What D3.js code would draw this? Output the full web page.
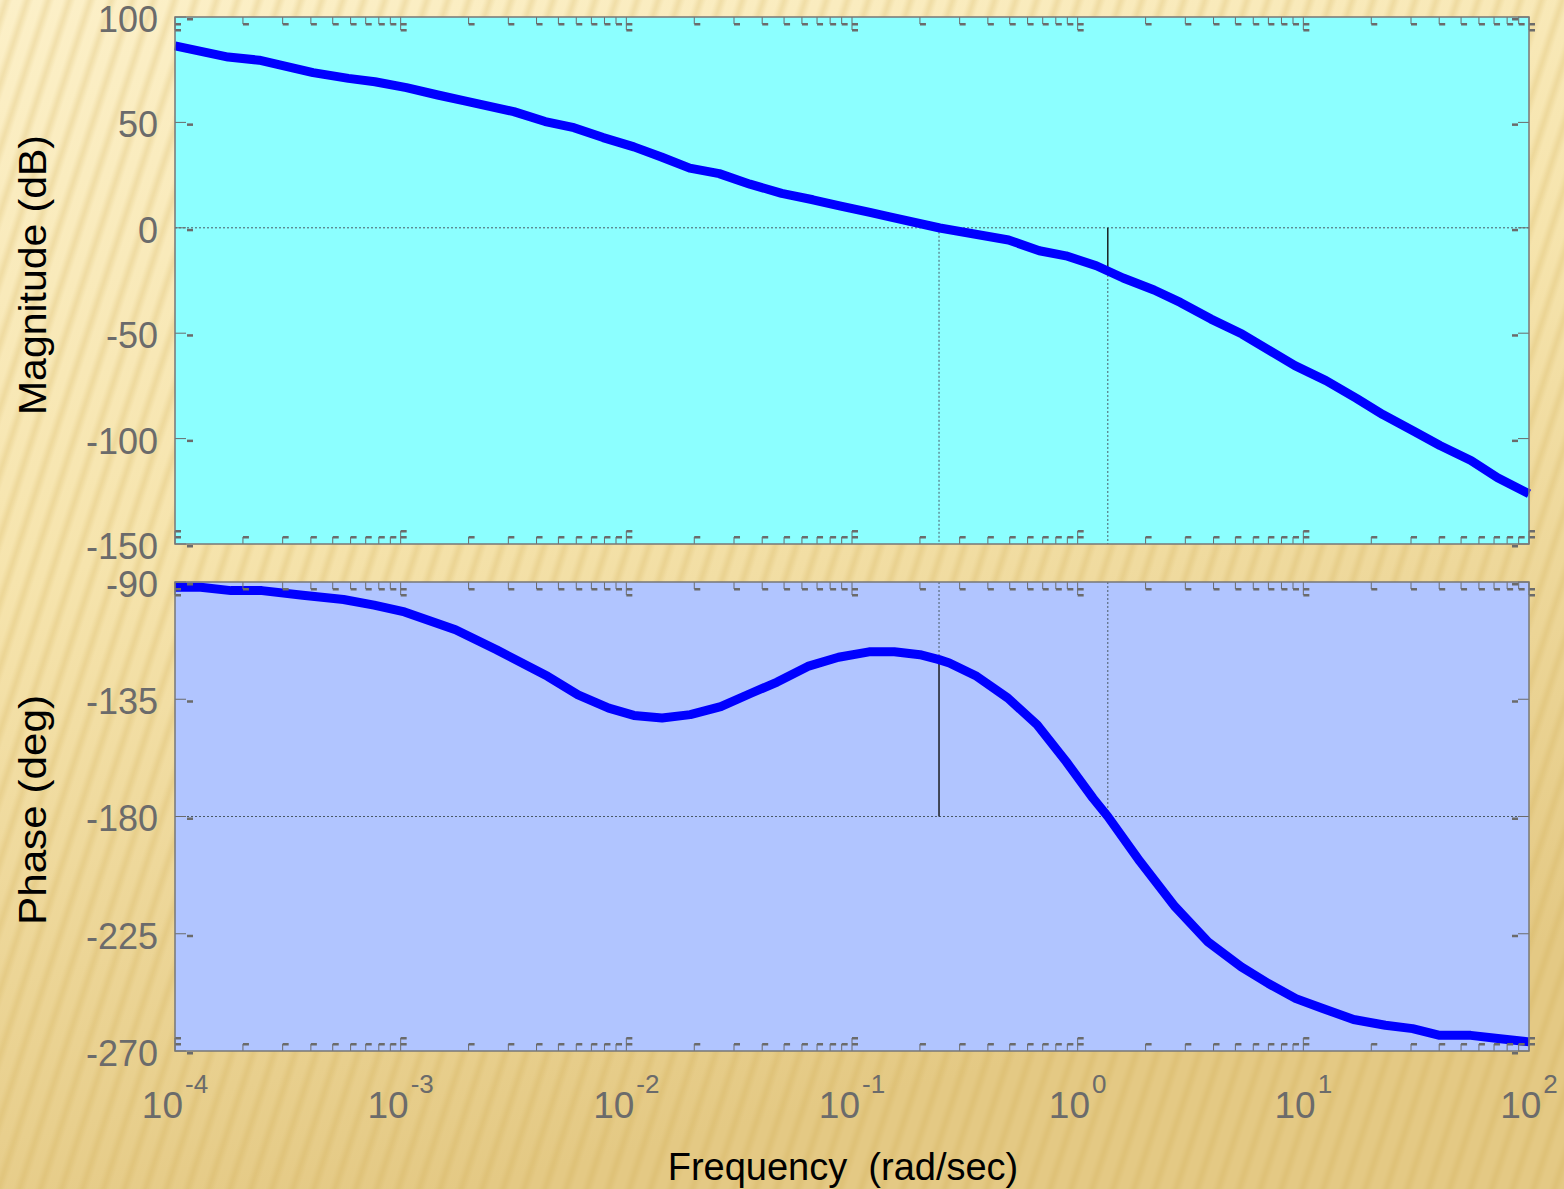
<!DOCTYPE html>
<html>
<head>
<meta charset="utf-8">
<script src="https://cdn.jsdelivr.net/npm/d3@7"></script>
<style>
  body { margin: 0; overflow: hidden; }
  svg { display: block; }
  text { font-family: "Liberation Sans", Arial, sans-serif; }
</style>
</head>
<body>
<div id="chart"></div>
<script>
'use strict'

// magnitude curve (rad/sec, dB)
const magFreq = [1.00e-4, 1.72e-4, 2.36e-4, 4.09e-4, 5.87e-4, 7.69e-4, 1.06e-3, 1.46e-3, 1.92e-3, 3.17e-3,
    4.37e-3, 5.86e-3, 7.89e-3, 1.08e-2, 1.43e-2, 1.91e-2, 2.58e-2, 3.53e-2, 4.88e-2, 6.71e-2,
    8.81e-2, 0.120, 0.147, 0.245, 0.494, 0.676, 0.887, 1.21, 1.59, 2.18,
    2.85, 3.90, 5.35, 9.18, 12.6, 17.2, 22.5, 30.9, 40.3, 55.3, 72.6, 100]
const magDb = [86.3, 81.0, 79.5, 73.6, 70.9, 69.3, 66.5, 63.0, 60.2, 55.1,
    50.4, 47.5, 42.8, 38.4, 33.6, 28.3, 25.7, 20.7, 16.3, 13.3,
    10.4, 7.3, 5.2, -0.1, -5.8, -10.9, -13.3, -18.0, -23.8, -29.5,
    -35.4, -43.3, -50.4, -65.4, -72.5, -80.9, -88.6, -96.5, -103.3, -110.4, -118.6, -126.2]

// phase curve (rad/sec, deg)
const phaseFreq = [1.00e-4, 1.30e-4, 1.77e-4, 2.43e-4, 3.68e-4, 5.58e-4, 7.62e-4, 1.04e-3, 1.75e-3, 2.66e-3,
    4.48e-3, 6.11e-3, 8.36e-3, 1.08e-2, 1.44e-2, 1.92e-2, 2.62e-2, 3.59e-2, 4.66e-2, 6.37e-2,
    8.71e-2, 0.119, 0.154, 0.200, 0.243, 0.270, 0.357, 0.490, 0.661, 0.889,
    1.17, 1.36, 1.89, 2.70, 3.78, 5.31, 7.00, 9.27, 12.2, 16.7,
    23.1, 30.5, 40.2, 55.2, 72.8, 100]
const phaseDeg = [-92.0, -92.0, -93.3, -93.3, -95.1, -96.7, -98.9, -101.5, -108.3, -116.0,
    -126.2, -133.3, -138.4, -141.2, -142.2, -140.9, -137.8, -132.6, -128.4, -122.4,
    -118.9, -116.8, -116.8, -117.9, -119.8, -121.1, -126.2, -134.5, -144.8, -158.9,
    -173.0, -180.0, -197.3, -214.6, -228.1, -237.7, -244.1, -249.9, -253.7, -257.9,
    -260.1, -261.4, -264.0, -264.0, -265.2, -266.5]

// tick labels
const magTicks = [100, 50, 0, -50, -100, -150]
const phaseTicks = [-90, -135, -180, -225, -270]
const decadeExp = [-4, -3, -2, -1, 0, 1, 2]

// margins: gain crossover and phase crossover frequencies
const gainCrossFreq = 0.243
const phaseCrossFreq = 1.36

////////////////////////////////////
//////////// svg setup /////////////
////////////////////////////////////
const svgWidth = 1564
const svgHeight = 1189
const left = 175, right = 1529
const magTop = 17, magBottom = 544
const phTop = 582, phBottom = 1051
const grey = '#6b6b6b'

const svg = d3.select('#chart')
    .append('svg')
    .attr('width', svgWidth)
    .attr('height', svgHeight)

const defs = svg.append('defs')

const bg = defs.append('linearGradient')
    .attr('id', 'bg')
    .attr('x1', '0%').attr('x2', '30%')
    .attr('y1', '0%').attr('y2', '100%')
bg.append('stop').attr('offset', '0%').style('stop-color', '#fcf0c8')
bg.append('stop').attr('offset', '45%').style('stop-color', '#f6e4ad')
bg.append('stop').attr('offset', '100%').style('stop-color', '#e4c984')

// soft wood-grain stripes
const stripeGrad = defs.append('linearGradient')
    .attr('id', 'stripeGrad')
    .attr('x1', '0%').attr('x2', '100%')
stripeGrad.append('stop').attr('offset', '0%').style('stop-color', '#c9a447').style('stop-opacity', 0)
stripeGrad.append('stop').attr('offset', '50%').style('stop-color', '#c9a447').style('stop-opacity', 0.22)
stripeGrad.append('stop').attr('offset', '100%').style('stop-color', '#c9a447').style('stop-opacity', 0)

const stripes = defs.append('pattern')
    .attr('id', 'stripes')
    .attr('patternUnits', 'userSpaceOnUse')
    .attr('width', 20).attr('height', 20)
    .attr('patternTransform', 'rotate(18)')
stripes.append('rect')
    .attr('width', 12).attr('height', 20)
    .attr('fill', 'url(#stripeGrad)')

svg.append('rect').attr('width', svgWidth).attr('height', svgHeight).attr('fill', 'url(#bg)')
svg.append('rect').attr('width', svgWidth).attr('height', svgHeight).attr('fill', 'url(#stripes)')

////////////////////////////////////
//////////// Scales ////////////////
////////////////////////////////////
const x = d3.scaleLog().domain([1e-4, 100]).range([left, right])
const yMag = d3.scaleLinear().domain([-150, 100]).range([magBottom, magTop])
const yPh = d3.scaleLinear().domain([-270, -90]).range([phBottom, phTop])

// piecewise log interpolation of the curves, for the margin markers
const magAt = d3.scaleLog().domain(magFreq).range(magDb)
const phaseAt = d3.scaleLog().domain(phaseFreq).range(phaseDeg)

////////////////////////////////////
//////////// Panels ////////////////
////////////////////////////////////
svg.append('rect')
    .attr('x', left).attr('y', magTop)
    .attr('width', right - left).attr('height', magBottom - magTop)
    .attr('fill', '#8cffff')

svg.append('rect')
    .attr('x', left).attr('y', phTop)
    .attr('width', right - left).attr('height', phBottom - phTop)
    .attr('fill', '#b1c5ff')

// dotted reference lines
const dotted = (x1, x2, y1, y2) => svg.append('line')
    .attr('x1', x1).attr('x2', x2).attr('y1', y1).attr('y2', y2)
    .attr('stroke', '#4a5a66').attr('stroke-width', 1)
    .attr('stroke-dasharray', '2,2')
const solid = (x1, x2, y1, y2) => svg.append('line')
    .attr('x1', x1).attr('x2', x2).attr('y1', y1).attr('y2', y2)
    .attr('stroke', '#111').attr('stroke-width', 1.4)

dotted(left, right, yMag(0), yMag(0))
dotted(left, right, yPh(-180), yPh(-180))

// gain crossover (phase margin)
dotted(x(gainCrossFreq), x(gainCrossFreq), yMag(0), magBottom)
dotted(x(gainCrossFreq), x(gainCrossFreq), phTop, yPh(phaseAt(gainCrossFreq)))
solid(x(gainCrossFreq), x(gainCrossFreq), yPh(phaseAt(gainCrossFreq)), yPh(-180))

// phase crossover (gain margin)
solid(x(phaseCrossFreq), x(phaseCrossFreq), yMag(0), yMag(magAt(phaseCrossFreq)))
dotted(x(phaseCrossFreq), x(phaseCrossFreq), yMag(magAt(phaseCrossFreq)), magBottom)
dotted(x(phaseCrossFreq), x(phaseCrossFreq), phTop, yPh(-180))

////////////////////////////////////
//////////// Curves ////////////////
////////////////////////////////////
svg.append('path')
    .datum(d3.zip(magFreq, magDb))
    .attr('fill', 'none')
    .attr('stroke', '#0000ff')
    .attr('stroke-width', 9)
    .attr('stroke-linejoin', 'round')
    .attr('d', d3.line().x(d => x(d[0])).y(d => yMag(d[1])))

svg.append('path')
    .datum(d3.zip(phaseFreq, phaseDeg))
    .attr('fill', 'none')
    .attr('stroke', '#0000ff')
    .attr('stroke-width', 9)
    .attr('stroke-linejoin', 'round')
    .attr('d', d3.line().x(d => x(d[0])).y(d => yPh(d[1])))

////////////////////////////////////
//////////// Ticks /////////////////
////////////////////////////////////
const tickG = svg.append('g').attr('fill', grey).attr('stroke', grey)
const logTicks = x.ticks()
const isMajor = v => Math.abs(Math.log10(v) - Math.round(Math.log10(v))) < 1e-9

function xTicks(top, bottom) {
    logTicks.forEach(v => {
        const px = x(v)
        const len = isMajor(v) ? 13 : 7
        // top edge, pointing down
        tickG.append('line').attr('x1', px).attr('x2', px).attr('y1', top).attr('y2', top + len).attr('stroke-width', 1)
        tickG.append('rect').attr('x', px).attr('y', top + 6).attr('width', 6).attr('height', 2.5).attr('stroke', 'none')
        // bottom edge, pointing up
        tickG.append('line').attr('x1', px).attr('x2', px).attr('y1', bottom).attr('y2', bottom - len).attr('stroke-width', 1)
        tickG.append('rect').attr('x', px).attr('y', bottom - 8).attr('width', 6).attr('height', 2.5).attr('stroke', 'none')
        if (isMajor(v)) {
            tickG.append('rect').attr('x', px).attr('y', top + 12).attr('width', 6).attr('height', 2.5).attr('stroke', 'none')
            tickG.append('rect').attr('x', px).attr('y', bottom - 14).attr('width', 6).attr('height', 2.5).attr('stroke', 'none')
        }
    })
}
xTicks(magTop, magBottom)
xTicks(phTop, phBottom)

function yTicks(values, scale) {
    values.forEach(v => {
        const py = scale(v)
        tickG.append('line').attr('x1', left).attr('x2', left + 11).attr('y1', py).attr('y2', py).attr('stroke-width', 1)
        tickG.append('rect').attr('x', left + 12).attr('y', py + 1).attr('width', 6).attr('height', 2.5).attr('stroke', 'none')
        tickG.append('line').attr('x1', right).attr('x2', right - 11).attr('y1', py).attr('y2', py).attr('stroke-width', 1)
        tickG.append('rect').attr('x', right - 17).attr('y', py + 1).attr('width', 6).attr('height', 2.5).attr('stroke', 'none')
    })
}
yTicks(magTicks, yMag)
yTicks(phaseTicks, yPh)

// panel borders
svg.append('rect')
    .attr('x', left).attr('y', magTop)
    .attr('width', right - left).attr('height', magBottom - magTop)
    .attr('fill', 'none').attr('stroke', '#777').attr('stroke-width', 1.5)
svg.append('rect')
    .attr('x', left).attr('y', phTop)
    .attr('width', right - left).attr('height', phBottom - phTop)
    .attr('fill', 'none').attr('stroke', '#777').attr('stroke-width', 1.5)

////////////////////////////////////
//////////// Labels ////////////////
////////////////////////////////////
const plainNum = d => String(d)   // ascii hyphen, like the original

svg.append('g')
    .attr('transform', `translate(${left},0)`)
    .call(d3.axisLeft(yMag).tickValues(magTicks).tickFormat(plainNum).tickSize(0).tickPadding(17))
svg.append('g')
    .attr('transform', `translate(${left},0)`)
    .call(d3.axisLeft(yPh).tickValues(phaseTicks).tickFormat(plainNum).tickSize(0).tickPadding(17))

svg.selectAll('.domain').remove()
svg.selectAll('.tick text')
    .attr('font-size', '36px')
    .attr('font-family', '"Liberation Sans", Arial, sans-serif')
    .attr('fill', grey)
    .attr('dy', '0.4em')

// decade labels 10^n
const xLabels = svg.append('g')
decadeExp.forEach(e => {
    const t = xLabels.append('text')
        .attr('x', x(Math.pow(10, e)))
        .attr('y', 1118)
        .attr('text-anchor', 'middle')
        .attr('fill', grey)
    t.append('tspan').attr('font-size', '37px').text('10')
    t.append('tspan').attr('font-size', '26px').attr('dx', 2).attr('dy', -25).text(plainNum(e))
})

svg.append('text')
    .attr('transform', 'translate(46,275) rotate(-90)')
    .attr('text-anchor', 'middle')
    .attr('font-size', '38px')
    .attr('fill', '#000')
    .attr('textLength', 280)
    .attr('lengthAdjust', 'spacingAndGlyphs')
    .text('Magnitude (dB)')

svg.append('text')
    .attr('transform', 'translate(46,810) rotate(-90)')
    .attr('text-anchor', 'middle')
    .attr('font-size', '38px')
    .attr('fill', '#000')
    .attr('textLength', 230)
    .attr('lengthAdjust', 'spacingAndGlyphs')
    .text('Phase (deg)')

svg.append('text')
    .attr('x', 843)
    .attr('y', 1180)
    .attr('text-anchor', 'middle')
    .attr('font-size', '38px')
    .attr('fill', '#000')
    .attr('xml:space', 'preserve')
    .style('white-space', 'pre')
    .text('Frequency  (rad/sec)')
</script>
</body>
</html>
